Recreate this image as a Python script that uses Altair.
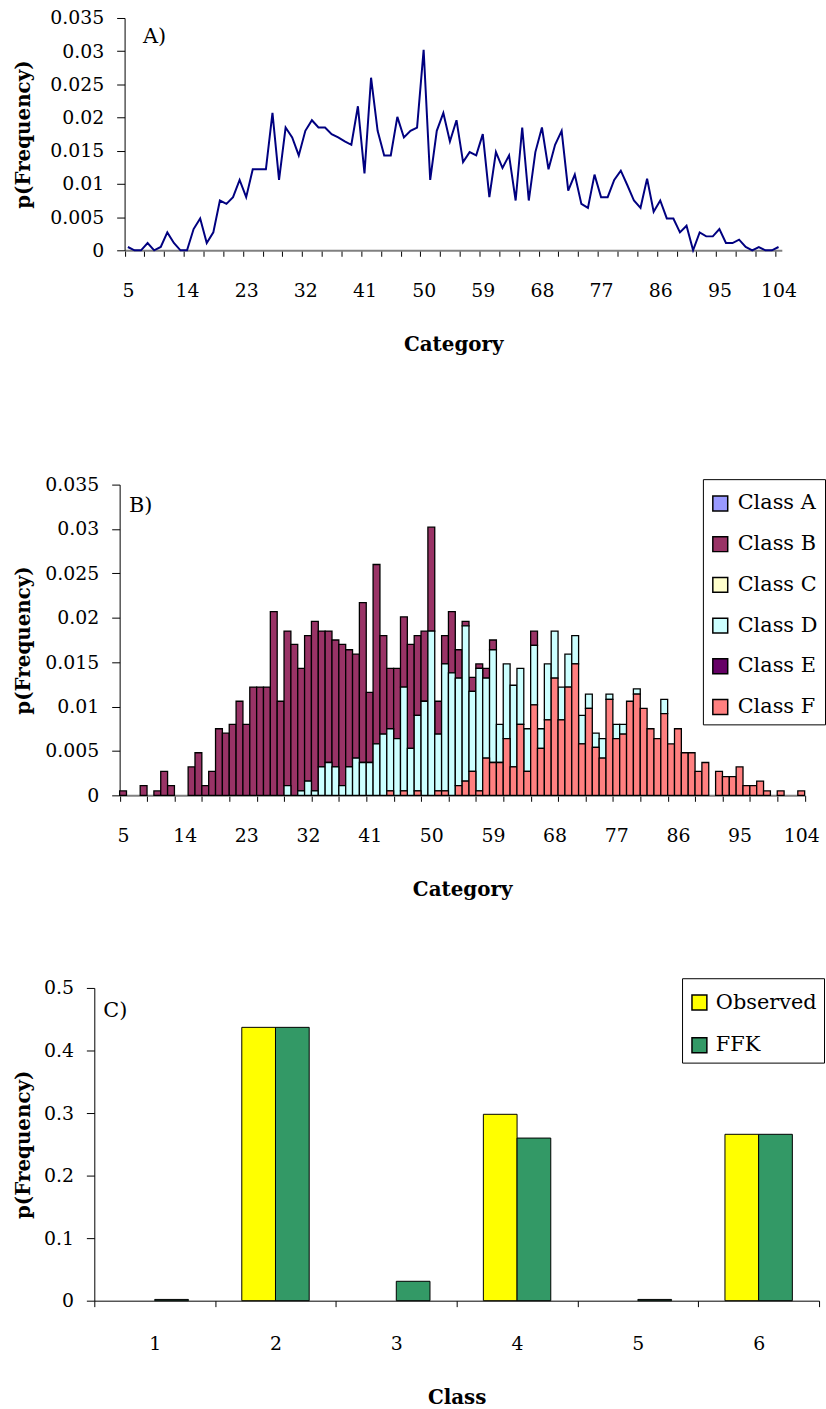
import altair as alt
import pandas as pd

# ---- frequency by category, split by class (categories 5..104) ----
categories = list(range(5, 105))

class_b = [
    0.0005, 0, 0, 0.0011, 0, 0.0005, 0.0027, 0.0011, 0, 0,            # 5-14
    0.0032, 0.0048, 0.0011, 0.0027, 0.0075, 0.0070, 0.0080, 0.0106, 0.0080, 0.0122,  # 15-24
    0.0122, 0.0122, 0.0207, 0.0106, 0.0174, 0.0170, 0.0138, 0.0164, 0.0191, 0.0153,  # 25-34
    0.0148, 0.0143, 0.0159, 0.0132, 0.0117, 0.0180, 0.0079, 0.0202, 0.0111, 0.0068,  # 35-44
    0.0079, 0.0079, 0.0117, 0.0090, 0.0079, 0.0117, 0.0037, 0.0032, 0.0069, 0.0032,  # 45-54
    0.0005, 0.0016, 0.0005, 0.0011, 0.0011, 0, 0, 0, 0, 0,            # 55-64
    0.0016, 0, 0, 0, 0, 0, 0, 0, 0, 0,                                # 65-74
    0, 0, 0, 0, 0, 0, 0, 0, 0, 0,                                     # 75-84
    0, 0, 0, 0, 0, 0, 0, 0, 0, 0,                                     # 85-94
    0, 0, 0, 0, 0, 0, 0, 0, 0, 0,                                     # 95-104
]
class_d = [
    0, 0, 0, 0, 0, 0, 0, 0, 0, 0,                                     # 5-14
    0, 0, 0, 0, 0, 0, 0, 0, 0, 0,                                     # 15-24
    0, 0, 0, 0, 0.0011, 0, 0.0005, 0.0016, 0.0005, 0.0032,            # 25-34
    0.0037, 0.0032, 0.0011, 0.0032, 0.0042, 0.0037, 0.0037, 0.0058, 0.0069, 0.0070,  # 35-44
    0.0064, 0.0117, 0.0053, 0.0085, 0.0106, 0.0185, 0.0064, 0.0143, 0.0138, 0.0121,  # 45-54
    0.0175, 0.0090, 0.0138, 0.0090, 0.0127, 0.0043, 0.0084, 0.0092, 0.0063, 0.0048,  # 55-64
    0.0067, 0.0022, 0.0063, 0.0053, 0.0037, 0.0037, 0.0032, 0.0032, 0.0016, 0.0016,  # 65-74
    0.0022, 0.0006, 0.0016, 0.0011, 0, 0.0006, 0, 0, 0, 0.0016,       # 75-84
    0, 0, 0, 0, 0, 0, 0, 0, 0, 0,                                     # 85-94
    0, 0, 0, 0, 0, 0, 0, 0, 0, 0,                                     # 95-104
]
class_f = [
    0, 0, 0, 0, 0, 0, 0, 0, 0, 0,                                     # 5-14
    0, 0, 0, 0, 0, 0, 0, 0, 0, 0,                                     # 15-24
    0, 0, 0, 0, 0, 0, 0, 0, 0, 0,                                     # 25-34
    0, 0, 0, 0, 0, 0, 0, 0, 0, 0.0005,                                # 35-44
    0, 0.0005, 0, 0.0005, 0, 0, 0.0005, 0.0005, 0, 0.0011,            # 45-54
    0.0016, 0.0027, 0.0005, 0.0042, 0.0037, 0.0037, 0.0064, 0.0032, 0.0080, 0.0027,  # 55-64
    0.0102, 0.0053, 0.0085, 0.0132, 0.0085, 0.0122, 0.0148, 0.0058, 0.0098, 0.0054,  # 65-74
    0.0042, 0.0108, 0.0064, 0.0069, 0.0106, 0.0114, 0.0098, 0.0075, 0.0064, 0.0092,  # 75-84
    0.0058, 0.0075, 0.0048, 0.0048, 0.0027, 0.0037, 0, 0.0027, 0.0021, 0.0021,       # 85-94
    0.0032, 0.0011, 0.0011, 0.0016, 0.0005, 0, 0.0005, 0, 0, 0.0005,  # 95-104
]

class_names = ["Class A", "Class B", "Class C", "Class D", "Class E", "Class F"]
class_colors = ["#9999FF", "#993366", "#FFFFCC", "#CCFFFF", "#660066", "#FF8080"]

# ---- class probabilities: observed vs FFK ----
fit_classes = [1, 2, 3, 4, 5, 6]
observed = [0.0, 0.437, 0.0, 0.298, 0.0, 0.266]
ffk = [0.002, 0.437, 0.031, 0.260, 0.002, 0.266]
series_names = ["Observed", "FFK"]
series_colors = ["#FFFF00", "#339966"]

# long tables built from the arrays above
rows = []
for name, vals in [("Class B", class_b), ("Class D", class_d), ("Class F", class_f)]:
    idx = class_names.index(name)
    for c, v in zip(categories, vals):
        rows.append({"category": c, "cls": name, "idx": idx, "p": v})
freq = pd.DataFrame(rows)

fit_rows = []
for k, o, f in zip(fit_classes, observed, ffk):
    fit_rows.append({"cls": k, "series": "Observed", "p": o})
    fit_rows.append({"cls": k, "series": "FFK", "p": f})
fit = pd.DataFrame(fit_rows)

FONT = "DejaVu Serif"
cat_labels = list(range(5, 105, 9))
freq_ticks = [round(0.005 * k, 3) for k in range(8)]
class_ticks = [round(0.1 * k, 1) for k in range(6)]

# all panels share one left edge; panels A and B start their data further right
A_LEFT, A_WIDTH = 30.5, 662
B_LEFT, B_WIDTH = 25.5, 690
C_WIDTH = 730
AXIS_C = 93.8       # page x of panel C's value axis
TITLE_RIGHT = 32.4  # page x of the right edge of the rotated value-axis titles


def category_axis(step, domain_color):
    # ticks on category boundaries every `step`, labels on every ninth category
    bounds = [4.5 + step * k for k in range(int(100 / step) + 1)]
    return alt.Axis(
        values=sorted(set(bounds) | set(cat_labels)),
        labelExpr="datum.value % 1 == 0 ? datum.label : ''",
        tickOpacity={"condition": {"test": "datum.value % 1 != 0", "value": 1}, "value": 0},
        format="d", labelOverlap=False, labelFlush=False,
        title="Category", tickSize=6, labelPadding=25.5, titlePadding=34.5,
        domainColor=domain_color, domainWidth=2,
    )


def freq_axis(vals, fmt, left):
    return alt.Axis(
        values=vals, format=fmt, title="p(Frequency)", tickSize=8,
        labelPadding=13, labelFlush=False, offset=-left,
        titleX=TITLE_RIGHT - (AXIS_C + left),
        titleBaseline="bottom", titleAngle=270,
    )


def class_legend(x, y, row_pad, label_offset):
    # boxed legend; the blank title only adds a little room above the first entry
    return alt.Legend(
        title=" ", titleFontSize=2, titlePadding=5,
        orient="none", legendX=x, legendY=y,
        strokeColor="black", fillColor="white", padding=7,
        symbolType="square", symbolSize=225, symbolStrokeColor="black",
        symbolStrokeWidth=1.5, labelFont=FONT, labelFontSize=21,
        labelColor="black", rowPadding=row_pad, labelOffset=label_offset,
    )


def tag(text, x, y):
    return alt.Chart(pd.DataFrame({"tag": [text]})).mark_text(
        font=FONT, fontSize=21, align="left", baseline="middle", color="black"
    ).encode(x=alt.value(x), y=alt.value(y), text="tag:N")


# ---- A) total frequency per category ----
line = alt.Chart(freq).transform_aggregate(
    total="sum(p)", groupby=["category"]
).mark_line(color="#000080", strokeWidth=2).encode(
    x=alt.X("category:Q",
            scale=alt.Scale(domain=[4.5, 104.5], nice=False, zero=False,
                            range=[A_LEFT, A_LEFT + A_WIDTH]),
            axis=category_axis(3, "#808080")),
    y=alt.Y("total:Q", scale=alt.Scale(domain=[0, 0.035], nice=False),
            axis=freq_axis(freq_ticks, ".3~f", A_LEFT)),
)
panel_a = alt.layer(line, tag("A)", 49, 19)).properties(width=A_LEFT + A_WIDTH, height=234)

# ---- B) stacked by class ----
bars = alt.Chart(freq).transform_filter("datum.p > 0").transform_stack(
    stack="p", groupby=["category"], as_=["y0", "y1"],
    sort=[alt.SortField("idx", order="descending")],
).transform_calculate(
    lo="datum.category - 0.5", hi="datum.category + 0.5"
).mark_rect(stroke="black", strokeWidth=1.3).encode(
    x=alt.X("lo:Q",
            scale=alt.Scale(domain=[4.5, 104.5], nice=False, zero=False,
                            range=[B_LEFT, B_LEFT + B_WIDTH]),
            axis=category_axis(4, "#808080")),
    x2="hi:Q",
    y=alt.Y("y0:Q", scale=alt.Scale(domain=[0, 0.035], nice=False),
            axis=freq_axis(freq_ticks, ".3~f", B_LEFT)),
    y2="y1:Q",
    color=alt.Color(
        "cls:N",
        scale=alt.Scale(domain=class_names, range=class_colors),
        legend=class_legend(613, -5.5, 19, 7),
    ),
)
panel_b = alt.layer(bars, tag("B)", 35, 22)).properties(width=B_LEFT + B_WIDTH, height=313)

# ---- C) observed vs FFK per class ----
cbars = alt.Chart(fit).transform_filter("datum.p > 0").mark_bar(
    stroke="black", strokeWidth=1
).encode(
    x=alt.X("cls:O", scale=alt.Scale(paddingInner=0, paddingOuter=0),
            axis=alt.Axis(tickBand="extent", labelAngle=0, title="Class",
                          tickSize=6, labelPadding=28, titlePadding=35)),
    xOffset=alt.XOffset("series:N", scale=alt.Scale(domain=series_names,
                                                    paddingInner=0, paddingOuter=0.792)),
    y=alt.Y("p:Q", scale=alt.Scale(domain=[0, 0.5], nice=False),
            axis=freq_axis(class_ticks, ".1~f", 0)),
    color=alt.Color(
        "series:N",
        scale=alt.Scale(domain=series_names, range=series_colors),
        legend=class_legend(592, -9.8, 21, 6),
    ),
)
panel_c = alt.layer(cbars, tag("C)", 9, 23)).properties(width=C_WIDTH, height=315)

top = alt.concat(panel_a, panel_b, columns=1, spacing=122).resolve_scale(
    color="independent", x="independent", y="independent"
)
chart = alt.concat(top, panel_c, columns=1, spacing=78).resolve_scale(
    color="independent", x="independent", y="independent"
).properties(
    padding={"left": 13, "top": 4, "right": 0, "bottom": 0}
).configure_axis(
    labelFont=FONT, labelFontSize=19, labelColor="black",
    titleFont=FONT, titleFontSize=20, titleFontWeight="bold", titleColor="black",
    tickColor="black", domainColor="black", grid=False,
).configure_view(strokeWidth=0)

chart.save("out.html", embed_options={"renderer": "svg", "actions": False})
